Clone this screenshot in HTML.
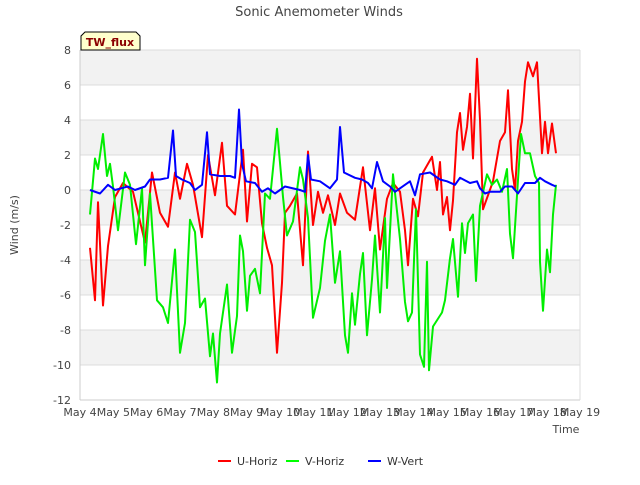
<!DOCTYPE html>
<html><head><meta charset="utf-8"><style>
body{margin:0;background:#fff;font-family:"Liberation Sans","DejaVu Sans",sans-serif}
svg text{font-family:"DejaVu Sans","Liberation Sans",sans-serif}
</style></head><body>
<svg id="chart" width="640" height="480" xmlns="http://www.w3.org/2000/svg">
<rect width="640" height="480" fill="#fff"/>
<g id="bands"></g><g id="grid"></g>
<text x="319" y="16" text-anchor="middle" font-size="13" fill="#444">Sonic Anemometer Winds</text>
<text transform="translate(18,225) rotate(-90)" text-anchor="middle" font-size="11" fill="#444">Wind (m/s)</text>
<text x="566" y="433" text-anchor="middle" font-size="11" fill="#444">Time</text>
<g id="yticks"></g><g id="xticks"></g><g id="series"></g>
<g>
<path d="M81,50 L81,36 L85,32 L136,32 L140,36 L140,50 Z" fill="#ffffcc" stroke="#000" stroke-width="1"/>
<text x="110" y="46" text-anchor="middle" font-size="11" font-weight="bold" fill="#8b0000">TW_flux</text>
</g>
<g>
<g><line x1="218" y1="461" x2="231" y2="461" stroke="#f00" stroke-width="2"/><text x="237" y="465" font-size="11" fill="#333">U-Horiz</text></g>
<g><line x1="286" y1="461" x2="299" y2="461" stroke="#0f0" stroke-width="2"/><text x="305" y="465" font-size="11" fill="#333">V-Horiz</text></g>
<g><line x1="368" y1="461" x2="381" y2="461" stroke="#00f" stroke-width="2"/><text x="387" y="465" font-size="11" fill="#333">W-Vert</text></g>
</g>
</svg>
<script>
const yTicks=[8,6,4,2,0,-2,-4,-6,-8,-10,-12];
const xTickDays=[4,5,6,7,8,9,10,11,12,13,14,15,16,17,18,19];
const xTickLabels=["May 4","May 5","May 6","May 7","May 8","May 9","May 10","May 11","May 12","May 13","May 14","May 15","May 16","May 17","May 18","May 19"];
const uTimes=[4.30,4.45,4.54,4.69,4.84,5.05,5.29,5.59,5.95,6.16,6.40,6.64,6.85,7.00,7.21,7.39,7.66,7.84,8.05,8.26,8.41,8.65,8.89,9.01,9.16,9.31,9.46,9.61,9.76,9.91,10.06,10.15,10.30,10.51,10.69,10.84,10.99,11.14,11.29,11.44,11.65,11.80,12.01,12.25,12.49,12.70,12.85,13.00,13.21,13.39,13.60,13.75,13.84,13.99,14.14,14.29,14.56,14.71,14.80,14.89,15.01,15.10,15.19,15.31,15.40,15.49,15.61,15.70,15.79,15.91,16.00,16.09,16.24,16.39,16.60,16.75,16.84,16.96,17.05,17.14,17.26,17.35,17.44,17.59,17.71,17.86,17.95,18.04,18.16,18.28];
const uValues=[-3.3,-6.3,-0.7,-6.6,-3.2,-0.4,0.4,-0.1,-3,1,-1.3,-2.1,1,-0.5,1.5,0.3,-2.7,2.0,-0.3,2.7,-0.9,-1.4,2.3,-1.8,1.5,1.3,-1.9,-3.3,-4.3,-9.3,-5.3,-1.3,-0.9,-0.2,-4.3,2.2,-2,-0.1,-1.3,-0.3,-2,-0.2,-1.3,-1.7,1.3,-2.3,0.1,-3.4,-0.5,0.4,-0.1,-2.3,-4.3,-0.5,-1.5,1,1.9,0,1.6,-1.4,-0.4,-2.3,-0.6,3.3,4.4,2.3,3.6,5.5,1.8,7.5,4,-1.1,-0.3,0.5,2.8,3.3,5.7,1.2,0,2.8,3.9,6.2,7.3,6.5,7.3,2.1,3.9,2.1,3.8,2.1];
const vTimes=[4.30,4.45,4.54,4.69,4.81,4.90,4.99,5.14,5.35,5.50,5.68,5.86,5.95,6.10,6.31,6.49,6.64,6.85,7.00,7.15,7.30,7.45,7.60,7.75,7.90,7.99,8.11,8.20,8.41,8.56,8.71,8.80,8.89,9.01,9.10,9.25,9.40,9.55,9.70,9.91,10.09,10.21,10.39,10.60,10.69,10.84,10.99,11.20,11.35,11.50,11.65,11.80,11.95,12.04,12.16,12.25,12.40,12.49,12.61,12.76,12.85,13.00,13.15,13.21,13.39,13.60,13.75,13.84,13.96,14.08,14.20,14.32,14.41,14.47,14.59,14.86,14.95,15.10,15.19,15.34,15.46,15.55,15.64,15.79,15.88,16.00,16.21,16.36,16.51,16.66,16.81,16.90,16.99,17.11,17.23,17.35,17.50,17.65,17.77,17.80,17.89,18.01,18.10,18.19,18.28];
const vValues=[-1.4,1.8,1.2,3.2,0.8,1.5,0.2,-2.3,1,0.3,-3.1,0.1,-4.3,-0.2,-6.3,-6.7,-7.6,-3.4,-9.3,-7.6,-1.7,-2.4,-6.7,-6.2,-9.5,-8.2,-11,-8.2,-5.4,-9.3,-7.2,-2.6,-3.5,-6.9,-4.9,-4.5,-5.9,-0.2,-0.5,3.5,-0.4,-2.6,-1.8,1.3,0.6,-1.6,-7.3,-5.6,-2.9,-1.4,-5.3,-3.5,-8.3,-9.3,-5.9,-7.7,-4.8,-3.6,-8.3,-5.1,-2.6,-7,-1.6,-5.6,0.9,-2.8,-6.4,-7.5,-7,-1.1,-9.4,-10.1,-4.1,-10.3,-7.8,-7,-6.3,-3.9,-2.8,-6.1,-1.9,-3.6,-1.9,-1.4,-5.2,-0.9,0.9,0.3,0.6,-0.1,1.2,-2.5,-3.9,-0.3,3.2,2.1,2.1,0.8,0.4,-4.1,-6.9,-3.4,-4.7,-1.4,0.3];
const wTimes=[4.30,4.60,4.84,5.05,5.44,5.65,5.95,6.10,6.40,6.64,6.79,6.88,7.06,7.30,7.45,7.66,7.81,7.90,8.20,8.50,8.65,8.77,8.86,8.98,9.25,9.46,9.64,9.85,10.15,10.60,10.75,10.84,10.93,11.20,11.50,11.71,11.80,11.92,12.25,12.46,12.64,12.76,12.91,13.09,13.30,13.45,13.75,13.90,14.05,14.20,14.50,14.80,15.01,15.25,15.40,15.70,15.91,16.00,16.15,16.30,16.60,16.75,16.96,17.14,17.35,17.65,17.80,17.95,18.16,18.28];
const wValues=[0,-0.2,0.3,0,0.2,0,0.2,0.6,0.6,0.7,3.4,0.8,0.6,0.4,0,0.3,3.3,0.9,0.8,0.8,0.7,4.6,1.5,0.5,0.4,-0.1,0.1,-0.2,0.2,0,-0.1,2.0,0.6,0.5,0.1,0.6,3.6,1.0,0.7,0.6,0.4,0.1,1.6,0.5,0.2,-0.1,0.3,0.5,-0.3,0.9,1.0,0.6,0.5,0.3,0.7,0.4,0.5,0.1,-0.2,-0.1,-0.1,0.2,0.2,-0.2,0.4,0.4,0.7,0.5,0.3,0.2];

const NS="http://www.w3.org/2000/svg";
const X0=80,X1=580,Y0=50,Y1=400;
function xs(d){return X0+(d-4)/15*(X1-X0);}
function ys(v){return Y0+(8-v)/20*(Y1-Y0);}
function mk(tag,attrs,parent){const e=document.createElementNS(NS,tag);for(const k in attrs)e.setAttribute(k,attrs[k]);parent.appendChild(e);return e;}
const bands=document.getElementById('bands'),grid=document.getElementById('grid');
mk('rect',{x:X0,y:Y0,width:X1-X0,height:Y1-Y0,fill:'#fff'},bands);
for(let i=0;i<yTicks.length-1;i+=2){
  const r=mk('rect',{x:X0,y:ys(yTicks[i]),width:X1-X0,height:ys(yTicks[i+1])-ys(yTicks[i]),fill:'#f2f2f2'},bands);
  
  
}
const yt=document.getElementById('yticks');
yTicks.forEach(v=>{
  const l=mk('line',{x1:X0,x2:X1,y1:ys(v),y2:ys(v),stroke:'#dcdcdc','stroke-width':1},grid);
  
  
  const t=mk('text',{x:71,y:ys(v)+4,'text-anchor':'end','font-size':11,fill:'#444'},yt);
  
  
  t.textContent=v;
});
mk('line',{x1:X0,x2:X0,y1:Y0,y2:Y1,stroke:'#ccc'},grid);
mk('line',{x1:X0,x2:X1,y1:Y1,y2:Y1,stroke:'#ccc'},grid);
mk('line',{x1:X1,x2:X1,y1:Y0,y2:Y1,stroke:'#ddd'},grid);
const xt=document.getElementById('xticks');
xTickDays.forEach((d,i)=>{
  const t=mk('text',{x:xs(d),y:416,'text-anchor':'middle','font-size':11,fill:'#444'},xt);
  
  
  t.textContent=xTickLabels[i];
});
const sg=document.getElementById('series');
function line(times,vals,color,name){
  const pts=times.map((t,i)=>xs(t).toFixed(1)+','+ys(vals[i]).toFixed(1)).join(' ');
  const p=mk('polyline',{points:pts,fill:'none',stroke:color,'stroke-width':2,'stroke-linejoin':'round'},sg);
  
  
}
line(uTimes,uValues,'#ff0000','u-horiz-line');
line(vTimes,vValues,'#00ee00','v-horiz-line');
line(wTimes,wValues,'#0000ff','w-vert-line');
</script>
</body></html>
